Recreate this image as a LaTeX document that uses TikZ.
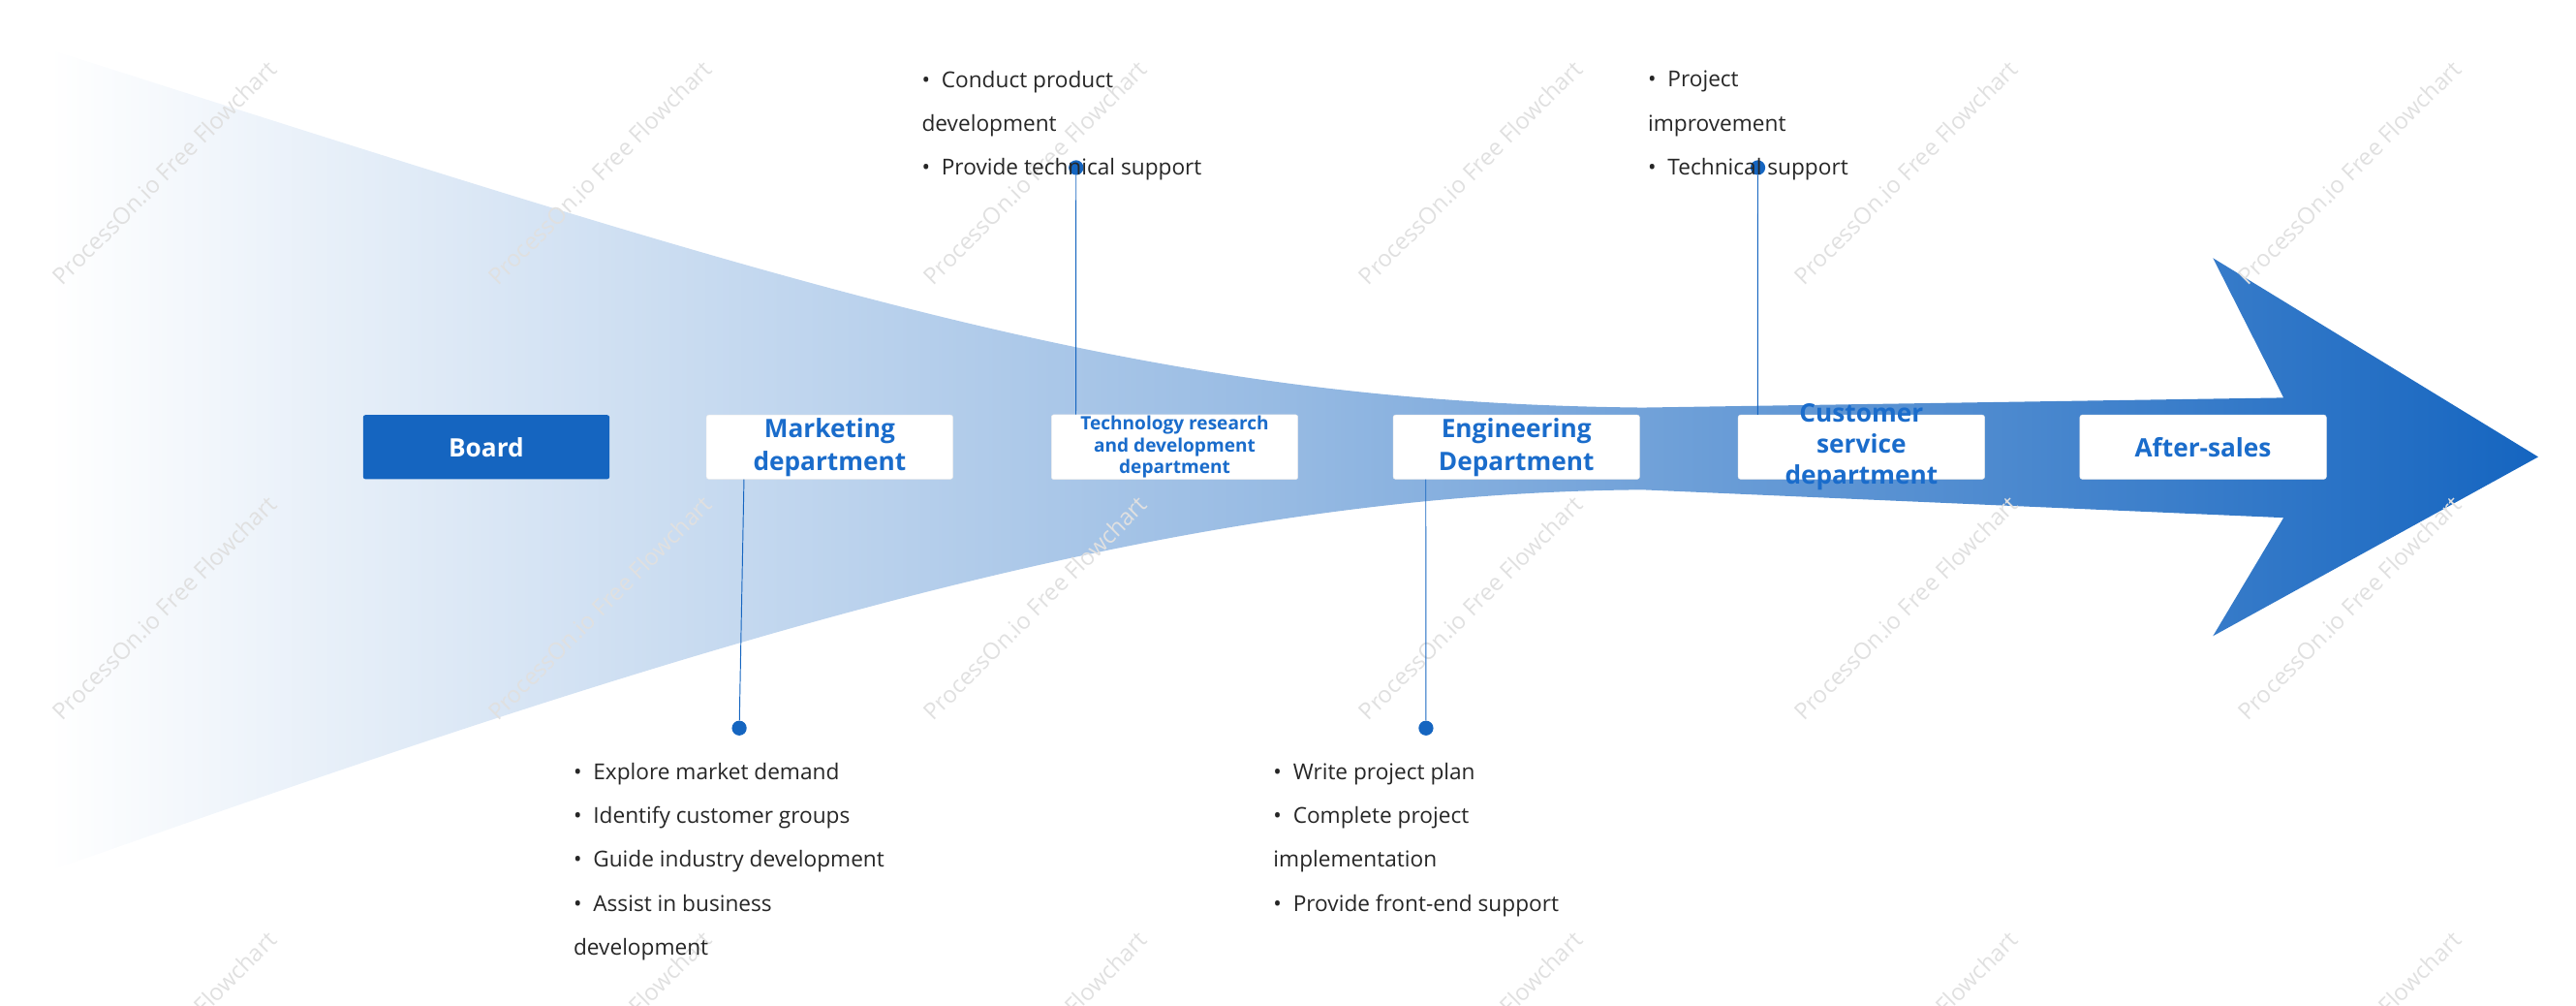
\documentclass[tikz,border=0pt]{standalone}
\usepackage{fontspec}
\setmainfont{Open Sans}
\usetikzlibrary{calc}
\definecolor{bblue}{HTML}{1565C0}
\definecolor{tblue}{HTML}{1A6CCB}
\tikzset{
  dept/.style={draw=white!85!gray, fill=white, rounded corners=2pt, minimum width=150*0.05cm, minimum height=39*0.05cm, inner sep=1pt, text=tblue, font=\fontsize{22}{28.5}\selectfont\bfseries, align=center},
  board/.style={fill=bblue, rounded corners=2pt, minimum width=150*0.05cm, minimum height=39*0.05cm, text=white, font=\fontsize{22}{22}\selectfont\bfseries},
  lst/.style={anchor=north west, inner sep=0pt, align=left, font=\fontsize{19}{38}\selectfont, text=black!85},
  dot/.style={circle, fill=bblue, inner sep=0pt, minimum size=9*0.05cm},
  conn/.style={draw=bblue, line width=0.8pt},
  wm/.style={rotate=45, text=black!12, font=\fontsize{20}{20}\selectfont}
}
\begin{document}
\begin{tikzpicture}[x=0.05cm,y=-0.05cm]
\useasboundingbox (0,0) rectangle (1568,612);
\shade[left color=white, right color=bblue, middle color=bblue!45]
  (30,30) .. controls (500,180) and (700,245) .. (1000,248) -- (1390,242) -- (1347,157) -- (1545,278) -- (1347,387) -- (1390,315) -- (1000,298) .. controls (700,300) and (400,400) .. (30,530) -- cycle;
\foreach \x in {100,365,630,895,1160,1430}{
  \node[wm] (w1\x) at (\x,105) {ProcessOn.io Free Flowchart};
  \node[wm] (w2\x) at (\x,370) {ProcessOn.io Free Flowchart};
  \node[wm] (w3\x) at (\x,635) {ProcessOn.io Free Flowchart};
}
\node[board] (board) at (296,272) {Board};
\node[dept] (mkt) at (505,272) {Marketing\\department};
\node[dept, font=\fontsize{16}{19}\selectfont\bfseries] (tech) at (715,272) {Technology research\\and development\\department};
\node[dept] (eng) at (923,272) {Engineering\\Department};
\node[dept] (cus) at (1133,272) {};
\node[text=tblue, font=\fontsize{22}{27}\selectfont\bfseries, align=center, inner sep=0pt] (cuslabel) at (cus.center) {Customer\\service\\department};
\node[dept] (aft) at (1341,272) {After-sales};
\node[dot] (d1) at (450,443) {};
\node[dot] (d2) at (655,102) {};
\node[dot] (d3) at (868,443) {};
\node[dot] (d4) at (1070,102) {};
\draw[conn] (mkt.south west) ++(23,0) -- (d1);
\draw[conn] (tech.north west) ++(15,0) -- (d2);
\draw[conn] (eng.south west) ++(20,0) -- (d3);
\draw[conn] (cus.north west) ++(12,0) -- (d4);
\node[lst] (l1) at (349,464) {•\ \ Explore market demand\\•\ \ Identify customer groups\\•\ \ Guide industry development\\•\ \ Assist in business\\development};
\node[lst] (l2) at (561,43) {•\ \ Conduct product\\development\\•\ \ Provide technical support};
\node[lst] (l3) at (775,464) {•\ \ Write project plan\\•\ \ Complete project\\implementation\\•\ \ Provide front-end support};
\node[lst] (l4) at (1003,43) {•\ \ Project\\improvement\\•\ \ Technical support};
\end{tikzpicture}
\end{document}
